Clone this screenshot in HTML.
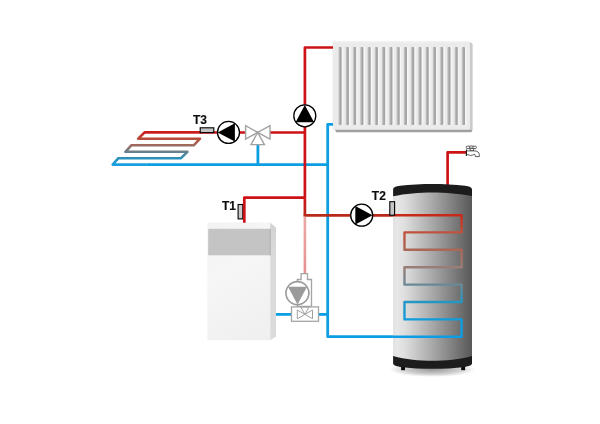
<!DOCTYPE html>
<html>
<head>
<meta charset="utf-8">
<title>Heating schematic</title>
<style>
html,body{margin:0;padding:0;background:#fff;}
body{width:600px;height:424px;overflow:hidden;}
svg{display:block;}
text{font-family:"Liberation Sans",Arial,sans-serif;font-weight:bold;font-size:12px;fill:#0c0c0c;stroke:#0c0c0c;stroke-width:0.15px;}
</style>
</head>
<body>
<svg width="600" height="424" viewBox="0 0 600 424">
<defs>
  <linearGradient id="coilG" x1="0" y1="132" x2="0" y2="164.5" gradientUnits="userSpaceOnUse">
    <stop offset="0" stop-color="#cc1a1a"/>
    <stop offset="0.2" stop-color="#b84a38"/>
    <stop offset="0.4" stop-color="#a06a5e"/>
    <stop offset="0.6" stop-color="#6a7f88"/>
    <stop offset="0.8" stop-color="#2a90b8"/>
    <stop offset="1" stop-color="#1a9fe0"/>
  </linearGradient>
  <linearGradient id="tankCoilG" x1="0" y1="215" x2="0" y2="337" gradientUnits="userSpaceOnUse">
    <stop offset="0" stop-color="#c82818"/>
    <stop offset="0.143" stop-color="#c0523c"/>
    <stop offset="0.286" stop-color="#aa6856"/>
    <stop offset="0.429" stop-color="#9a7e78"/>
    <stop offset="0.571" stop-color="#6a8a98"/>
    <stop offset="0.714" stop-color="#2496c4"/>
    <stop offset="0.857" stop-color="#109cdc"/>
    <stop offset="1" stop-color="#0c9ee4"/>
  </linearGradient>
  <linearGradient id="redDown" x1="0" y1="198" x2="0" y2="215" gradientUnits="userSpaceOnUse">
    <stop offset="0" stop-color="#cd1216"/>
    <stop offset="1" stop-color="#b82a1a"/>
  </linearGradient>
  <linearGradient id="tankG" x1="393" y1="0" x2="472" y2="0" gradientUnits="userSpaceOnUse">
    <stop offset="0" stop-color="#e0e0e0"/>
    <stop offset="0.05" stop-color="#e7e7e7"/>
    <stop offset="0.15" stop-color="#dedede"/>
    <stop offset="0.5" stop-color="#a8a8a8"/>
    <stop offset="1" stop-color="#585858"/>
  </linearGradient>
  <linearGradient id="boilG" x1="208" y1="222" x2="271" y2="340" gradientUnits="userSpaceOnUse">
    <stop offset="0" stop-color="#f3f3f3"/>
    <stop offset="0.4" stop-color="#f6f6f6"/>
    <stop offset="1" stop-color="#efefef"/>
  </linearGradient>
  <linearGradient id="sideG" x1="0" y1="222" x2="0" y2="340" gradientUnits="userSpaceOnUse">
    <stop offset="0" stop-color="#d2d2d2"/>
    <stop offset="0.3" stop-color="#dadada"/>
    <stop offset="1" stop-color="#dcdcdc"/>
  </linearGradient>
  <linearGradient id="pinkG" x1="0" y1="216" x2="0" y2="274" gradientUnits="userSpaceOnUse">
    <stop offset="0" stop-color="#eea8a8"/>
    <stop offset="1" stop-color="#e78f8f"/>
  </linearGradient>
  <linearGradient id="finG" x1="0" y1="0" x2="1" y2="0">
    <stop offset="0" stop-color="#dadada"/>
    <stop offset="0.55" stop-color="#a8a8a8"/>
    <stop offset="1" stop-color="#a0a0a0"/>
  </linearGradient>
  <radialGradient id="shadG" cx="0.5" cy="0.5" r="0.5">
    <stop offset="0" stop-color="#000" stop-opacity="0.4"/>
    <stop offset="0.6" stop-color="#000" stop-opacity="0.2"/>
    <stop offset="1" stop-color="#000" stop-opacity="0"/>
  </radialGradient>
  <filter id="blur1" x="-20%" y="-20%" width="140%" height="140%"><feGaussianBlur stdDeviation="0.5"/></filter>
</defs>

<!-- Radiator -->
<g id="radiator">
  <path d="M334.5,128 H470 V42.5 L472.3,44 V130.5 Q472.3,132.2 470.5,132.2 H336 Z" fill="#a0a0a0" filter="url(#blur1)"/>
  <path d="M469.5,42 L472.2,43.5 V130 L469.5,130 Z" fill="#cacaca"/>
  <rect x="332.5" y="41" width="137.4" height="88.8" rx="1.2" fill="#ebebeb"/>
  <rect x="333.5" y="41" width="135.4" height="1.6" fill="#f2f2f2"/>
  <g id="fins">
    <rect x="341.60" y="47" width="1.6" height="78" fill="#f6f6f6"/>
    <rect x="338.20" y="47" width="3.4" height="78" rx="0.8" fill="url(#finG)"/>
    <rect x="348.86" y="47" width="1.6" height="78" fill="#f6f6f6"/>
    <rect x="345.46" y="47" width="3.4" height="78" rx="0.8" fill="url(#finG)"/>
    <rect x="356.12" y="47" width="1.6" height="78" fill="#f6f6f6"/>
    <rect x="352.72" y="47" width="3.4" height="78" rx="0.8" fill="url(#finG)"/>
    <rect x="363.38" y="47" width="1.6" height="78" fill="#f6f6f6"/>
    <rect x="359.98" y="47" width="3.4" height="78" rx="0.8" fill="url(#finG)"/>
    <rect x="370.64" y="47" width="1.6" height="78" fill="#f6f6f6"/>
    <rect x="367.24" y="47" width="3.4" height="78" rx="0.8" fill="url(#finG)"/>
    <rect x="377.89" y="47" width="1.6" height="78" fill="#f6f6f6"/>
    <rect x="374.49" y="47" width="3.4" height="78" rx="0.8" fill="url(#finG)"/>
    <rect x="385.15" y="47" width="1.6" height="78" fill="#f6f6f6"/>
    <rect x="381.75" y="47" width="3.4" height="78" rx="0.8" fill="url(#finG)"/>
    <rect x="392.41" y="47" width="1.6" height="78" fill="#f6f6f6"/>
    <rect x="389.01" y="47" width="3.4" height="78" rx="0.8" fill="url(#finG)"/>
    <rect x="399.67" y="47" width="1.6" height="78" fill="#f6f6f6"/>
    <rect x="396.27" y="47" width="3.4" height="78" rx="0.8" fill="url(#finG)"/>
    <rect x="406.93" y="47" width="1.6" height="78" fill="#f6f6f6"/>
    <rect x="403.53" y="47" width="3.4" height="78" rx="0.8" fill="url(#finG)"/>
    <rect x="414.19" y="47" width="1.6" height="78" fill="#f6f6f6"/>
    <rect x="410.79" y="47" width="3.4" height="78" rx="0.8" fill="url(#finG)"/>
    <rect x="421.45" y="47" width="1.6" height="78" fill="#f6f6f6"/>
    <rect x="418.05" y="47" width="3.4" height="78" rx="0.8" fill="url(#finG)"/>
    <rect x="428.71" y="47" width="1.6" height="78" fill="#f6f6f6"/>
    <rect x="425.31" y="47" width="3.4" height="78" rx="0.8" fill="url(#finG)"/>
    <rect x="435.96" y="47" width="1.6" height="78" fill="#f6f6f6"/>
    <rect x="432.56" y="47" width="3.4" height="78" rx="0.8" fill="url(#finG)"/>
    <rect x="443.22" y="47" width="1.6" height="78" fill="#f6f6f6"/>
    <rect x="439.82" y="47" width="3.4" height="78" rx="0.8" fill="url(#finG)"/>
    <rect x="450.48" y="47" width="1.6" height="78" fill="#f6f6f6"/>
    <rect x="447.08" y="47" width="3.4" height="78" rx="0.8" fill="url(#finG)"/>
    <rect x="457.74" y="47" width="1.6" height="78" fill="#f6f6f6"/>
    <rect x="454.34" y="47" width="3.4" height="78" rx="0.8" fill="url(#finG)"/>
    <rect x="465.00" y="47" width="1.6" height="78" fill="#f6f6f6"/>
    <rect x="461.60" y="47" width="3.4" height="78" rx="0.8" fill="url(#finG)"/>
  </g>
</g>

<!-- Floor heating coil -->
<path d="M201,132.4 H144.6 L138.2,138.7 H200 L194,145.2 H131.5 L125.4,151.8 H187.4 L181,158.2 H118.4 L112.7,164.6 H150" fill="none" stroke="url(#coilG)" stroke-width="2.6" stroke-linejoin="round"/>

<!-- Blue pipes -->
<g fill="none" stroke="#0c9ee2" stroke-width="2.8" stroke-linejoin="round">
  <path d="M149,164.6 H328"/>
  <path d="M257.9,144 V164.6"/>
  <path d="M333,124.3 H327.7 V336.7 H394"/>
  <path d="M275.8,314.4 H291.5"/>
  <path d="M318.5,314.4 H328"/>
</g>

<!-- Red pipes -->
<g fill="none" stroke="#cd1216" stroke-width="2.7" stroke-linejoin="round">
  <path d="M333,47.5 H304.9 V198.4"/>
  <path d="M200,132.5 H246"/>
  <path d="M270,132.5 H304.9"/>
  <path d="M447.6,185 V152.4 H466" stroke-linejoin="round"/>
</g>
<path d="M304.9,198.4 V215.4" stroke="url(#redDown)" stroke-width="2.7" fill="none"/>
<path d="M303.55,215.4 H394" stroke="#b82a1a" stroke-width="2.7" fill="none"/>
<path d="M304.9,216.7 V274" stroke="url(#pinkG)" stroke-width="2.6" fill="none"/>

<!-- Tank -->
<g id="tank">
  <ellipse cx="432.5" cy="369.5" rx="43" ry="7.5" fill="url(#shadG)"/>
  <rect x="401.1" y="362" width="3.9" height="8.2" fill="#0a0a0a"/>
  <rect x="461.2" y="362" width="3.9" height="8.2" fill="#0a0a0a"/>
  <path d="M393.1,355.5 V363.3 C393.1,365.4 396,366.2 400,366.9 C410,368.3 422,368.7 432.4,368.7 C443,368.7 455,368.3 465,366.9 C469,366.2 472,365.4 472,363.3 V355.5 L432.4,359.5 Z" fill="#1c1c1c"/>
  <path d="M393.1,196.8 V189.5 C393.1,187.3 396,186.4 400,185.8 C410,184.3 422,183.9 432.4,183.9 C443,183.9 455,184.3 465,185.8 C469,186.4 472,187.3 472,189.5 V196.8 L432.4,193.5 Z" fill="#1c1c1c"/>
  <path d="M393.1,196.3 C405,193.5 420,192.4 432.4,192.4 C445,192.4 460,193.5 472,196.1 V356 C460,359.4 445,360.8 432.4,360.8 C420,360.8 405,359.4 393.1,356 Z" fill="url(#tankG)"/>
  <path d="M393.1,215.3 H461.6 V232.4 H404.5 V249.8 H461.6 V267.2 H404.5 V284.6 H461.6 V302 H404.5 V319.4 H461.6 V336.8 H393.1" fill="none" stroke="url(#tankCoilG)" stroke-width="2.4" stroke-linejoin="round"/>
</g>

<!-- Pumps -->
<g id="pump1"><circle cx="228.5" cy="132.4" r="11.0" fill="#fff" stroke="#000" stroke-width="1.3"/><path d="M217.70,132.40 L234.90,123.20 L234.90,141.60 Z" fill="#000"/></g>
<g id="pump2"><circle cx="304.8" cy="115.8" r="11.0" fill="#fff" stroke="#000" stroke-width="1.3"/><path d="M304.80,105.00 L314.00,122.20 L295.60,122.20 Z" fill="#000"/></g>
<g id="pump3"><circle cx="361.7" cy="215.2" r="11.0" fill="#fff" stroke="#000" stroke-width="1.3"/><path d="M372.50,215.20 L355.30,224.40 L355.30,206.00 Z" fill="#000"/></g>

<!-- 3-way valve -->
<g fill="#fff" stroke="#a2a2a2" stroke-width="1.4" stroke-linejoin="miter">
  <path d="M257.7,132.4 L245.6,125.7 V139.1 Z"/>
  <path d="M257.7,132.4 L270,125.7 V139.1 Z"/>
  <path d="M257.7,132.4 L251,144.6 H264.4 Z"/>
</g>

<!-- Sensors -->
<rect x="200.2" y="127.8" width="13.6" height="4.8" fill="#c4c4c4" stroke="#000" stroke-width="1.1"/>
<rect x="238.1" y="204.5" width="4.7" height="14.4" fill="#cacaca" stroke="#000" stroke-width="1.1"/>
<rect x="389.8" y="201.7" width="4.8" height="13.5" fill="#c6c6c6" stroke="#000" stroke-width="1.1"/>

<!-- Labels -->
<g opacity="0.999">
<text x="193" y="124.3">T3</text>
<text x="222" y="209.5">T1</text>
<text x="371.8" y="199.8">T2</text>
</g>

<!-- Boiler -->
<g id="boiler">
  <path d="M270,222.4 L276,227.4 V336.8 L270,340.2 Z" fill="url(#sideG)"/>
  <rect x="207.4" y="222.4" width="62.9" height="117.8" fill="url(#boilG)"/>
  <rect x="208.2" y="228.8" width="62.3" height="26.5" fill="#c4c4c4"/>
  <rect x="269.8" y="228.8" width="0.8" height="26.5" fill="#ababab"/>
</g>

<path d="M244.3,222.8 V197.6 H304.9" fill="none" stroke="#cd1216" stroke-width="2.7" stroke-linejoin="round"/>

<!-- Boiler pump group -->
<g fill="#fff" stroke="#a4a4a4" stroke-width="1.3">
  <path d="M301.1,279.5 V273.6 H307.5 V279.5 H311.5 V306.5 H297.3 V279.5 Z"/>
  <circle cx="297.4" cy="293.1" r="11.5" stroke="#9a9a9a" stroke-width="1.6"/>
  <rect x="291.5" y="306.9" width="27" height="14.4"/>
  <g stroke-width="1" stroke="#a0a0a0">
  <path d="M304.9,314.4 L297.3,310 V318.8 Z"/>
  <path d="M304.9,314.4 L312.5,310 V318.8 Z"/>
  <path d="M304.9,314.4 L300.8,307.2 H309 Z"/>
  </g>
</g>
<path d="M288,286.8 H307 L297.5,304.6 Z" fill="#9a9a9a"/>

<!-- Tap -->
<g id="tap" fill="#fff" stroke="#2a2a2a" stroke-width="0.75" stroke-linejoin="round">
  <path d="M469.8,148.4 L470.6,150.9 H473.2 L474,148.4 Z"/>
  <rect x="466.3" y="146.2" width="4" height="2.4" rx="0.9"/>
  <rect x="472.4" y="146.2" width="3.9" height="2.4" rx="0.9"/>
  <rect x="469.6" y="146" width="3.4" height="2.2" rx="0.8"/>
  <path d="M466.4,150.9 H474 C477.4,150.9 479.3,152.4 479.3,154.6 V156.6 H475.4 V155.6 C475.4,154.8 474.8,154.4 474,154.5 C472.8,154.7 472.2,155.5 470.8,155.5 C469.4,155.5 469,154.6 467.8,154.6 C467.2,154.6 466.8,155 466.4,155.5 Z"/>
  <path d="M466.4,149.4 V156" stroke="#111" stroke-width="0.9" fill="none"/>
</g>
</svg>
</body>
</html>
